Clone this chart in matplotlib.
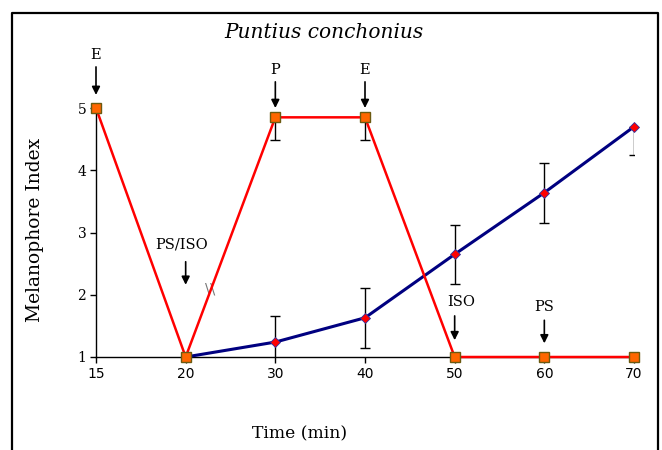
import matplotlib
matplotlib.use('Agg')
import matplotlib.pyplot as plt
from matplotlib.lines import Line2D

# data
times = ['15', '20', '30', '40', '50', '60', '70']
red_vals = [5.0, 1.0, 4.85, 4.85, 1.0, 1.0, 1.0]
red_err_lo = [0, 0, 0.37, 0.37, 0, 0, 0]
red_err_hi = [0, 0, 0, 0, 0, 0, 0]
blue_times = ['20', '30', '40', '50', '60', '70']
blue_vals = [1.0, 1.24, 1.63, 2.65, 3.64, 4.70]
blue_err_lo = [0, 0.42, 0.48, 0.47, 0.48, 0.46]
blue_err_hi = [0, 0.42, 0.48, 0.47, 0.48, 0]

# treatment labels: (label, x index, text y, arrow top y, arrow tip y)
events = [('E', 0, 5.85, 5.66, 5.21),
          ('P', 2, 5.61, 5.42, 5.00),
          ('E', 3, 5.61, 5.42, 5.00),
          ('PS/ISO', 1, 2.80, 2.53, 2.16),
          ('ISO', 4, 1.88, 1.66, 1.27),
          ('PS', 5, 1.80, 1.59, 1.22)]
event_text_dx = [0, 0, 0, -0.05, 0.07, 0]

serif = 'DejaVu Serif'

fig = plt.figure(figsize=(6.62, 4.5), dpi=100)
ax = fig.add_axes([96/662, 1-357/450, (634-96)/662, (357-108)/450])

xi = list(range(len(times)))
bxi = [times.index(t) for t in blue_times]

# error bars
ax.errorbar(xi, red_vals, yerr=[red_err_lo, red_err_hi], fmt='none',
            ecolor='black', elinewidth=1, capsize=3.5, capthick=1, zorder=2)
ax.errorbar(bxi, blue_vals, yerr=[blue_err_lo, blue_err_hi], fmt='none',
            ecolor='black', elinewidth=1, capsize=3.5, capthick=1, zorder=2)

# lines
ax.plot(bxi, blue_vals, color='#000080', lw=2.2, marker='D', ms=5.5,
        mfc='#ff0000', mec='#3030a0', mew=0.6, zorder=3, clip_on=False)
ax.plot(xi, red_vals, color='#ff0000', lw=1.8, marker='s', ms=7.5,
        mfc='#ff6600', mec='#6b5a10', mew=1.0, zorder=4, clip_on=False)

ax.set_xlim(0, 6)
ax.set_ylim(1, 5)
ax.set_xticks(xi)
ax.set_xticklabels(times)
ax.set_yticks([1, 2, 3, 4, 5])
ax.set_yticklabels(['1', '2', '3', '4', '5'], fontfamily=serif, fontsize=10)
for lab in ax.get_xticklabels():
    lab.set_fontfamily('DejaVu Sans')
    lab.set_fontsize(10)
ax.tick_params(direction='out', length=4, width=1, color='black', pad=3)
ax.spines['top'].set_visible(False)
ax.spines['right'].set_visible(False)
ax.spines['left'].set_linewidth(1)
ax.spines['bottom'].set_linewidth(1)

# arrows and labels
for (lab, x, ty, ay0, ay1), dx in zip(events, event_text_dx):
    ax.text(x + dx, ty, lab, ha='center', va='center', fontfamily=serif,
            fontsize=10.5, clip_on=False)
    ax.annotate('', xy=(x, ay1), xytext=(x, ay0), annotation_clip=False,
                arrowprops=dict(arrowstyle='-|>', color='black', lw=1.2,
                                mutation_scale=12, shrinkA=0, shrinkB=0))

ax.text(1.27, 2.08, '\\\\', ha='center', va='center', fontfamily=serif,
        fontsize=11, color='#777777')

fig.text(324/662, 1-33/450, 'Puntius conchonius', ha='center', va='center',
         fontfamily=serif, style='italic', fontsize=14.5)
fig.text(35/662, 1-230/450, 'Melanophore Index', ha='center', va='center',
         rotation=90, fontfamily=serif, fontsize=13.5)
fig.text(300/662, 1-434/450, 'Time (min)', ha='center', va='center',
         fontfamily=serif, fontsize=12.3)

# frame around the figure (bottom edge is cut off)
xl, xr, yt = 12/662, 658/662, 1-13/450
fig.add_artist(Line2D([xl, xl, xr, xr], [0, yt, yt, 0], color='black', lw=1.6,
                      transform=fig.transFigure))

plt.savefig('out.png', dpi=100)
plt.close()
